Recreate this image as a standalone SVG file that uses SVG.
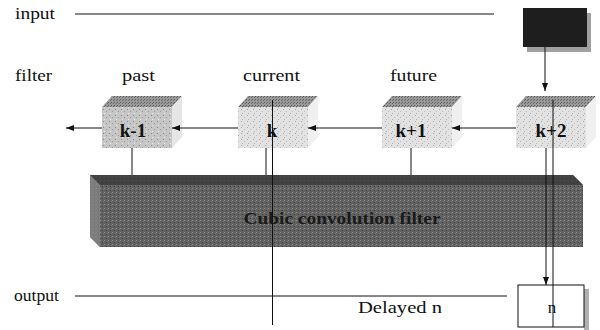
<svg xmlns="http://www.w3.org/2000/svg" width="600" height="330" viewBox="0 0 600 330">
<defs>
<style>
text{font-family:'Liberation Serif','DejaVu Serif',serif}
.lbl{font-size:17px;fill:#111}
.cap{font-size:19px;font-weight:bold;fill:#111;text-anchor:middle}
.ln{stroke:#111;stroke-width:1;fill:none}
</style>
<pattern id="speck" width="6" height="6" patternUnits="userSpaceOnUse">
<rect width="6" height="6" fill="#e2e2e2"/>
<rect x="1" y="1" width="1" height="1" fill="#a8a8a8"/>
<rect x="4" y="3" width="1" height="1" fill="#bdbdbd"/>
<rect x="2" y="5" width="1" height="1" fill="#b0b0b0"/>
</pattern>
<pattern id="speckD" width="6" height="6" patternUnits="userSpaceOnUse">
<rect width="6" height="6" fill="#c6c6c6"/>
<rect x="1" y="1" width="1" height="1" fill="#8c8c8c"/>
<rect x="4" y="3" width="1" height="1" fill="#9a9a9a"/>
<rect x="2" y="5" width="1" height="1" fill="#e8e8e8"/>
</pattern>
<pattern id="hatch" width="3" height="3" patternUnits="userSpaceOnUse">
<rect width="3" height="3" fill="#9a9a9a"/>
<rect x="0" y="0" width="1" height="1" fill="#5a5a5a"/>
<rect x="2" y="1" width="1" height="1" fill="#6a6a6a"/>
</pattern>
<pattern id="barp" width="4" height="4" patternUnits="userSpaceOnUse">
<rect width="4" height="4" fill="#626262"/>
<rect x="0" y="0" width="1" height="1" fill="#8a8a8a"/>
<rect x="2" y="2" width="1" height="1" fill="#3e3e3e"/>
<rect x="3" y="1" width="1" height="1" fill="#777"/>
</pattern>
<marker id="ah" viewBox="0 0 8 6" refX="8" refY="3" markerWidth="8" markerHeight="6" markerUnits="userSpaceOnUse" orient="auto">
<path d="M0,0 L8,3 L0,6 Z" fill="#111"/>
</marker>
</defs>
<rect width="600" height="330" fill="#fff"/>

<g id="labels" font-family="Liberation Serif, DejaVu Serif, serif">
<text class="lbl" x="15" y="19" textLength="40" lengthAdjust="spacingAndGlyphs">input</text>
<text class="lbl" x="15" y="81" textLength="37" lengthAdjust="spacingAndGlyphs">filter</text>
<text class="lbl" x="122" y="81" textLength="33" lengthAdjust="spacingAndGlyphs">past</text>
<text class="lbl" x="243" y="81" textLength="57" lengthAdjust="spacingAndGlyphs">current</text>
<text class="lbl" x="390" y="81" textLength="47" lengthAdjust="spacingAndGlyphs">future</text>
<text class="lbl" x="14" y="301" textLength="45" lengthAdjust="spacingAndGlyphs">output</text>
<text class="lbl" x="358" y="313" textLength="84" lengthAdjust="spacingAndGlyphs">Delayed n</text>
</g>

<g id="input-block">
<rect x="527" y="13" width="64" height="39" fill="#a0a0a0"/>
<rect x="523" y="8" width="64" height="39" fill="#1e1e1e"/>
</g>

<g id="bar">
<polygon points="90,175 573,175 583,185 583,247 100,247 90,237" fill="url(#barp)"/>
<polygon points="90,175 573,175 583,185 100,185" fill="#3a3a3a" opacity="0.8"/>
<polygon points="90,175 100,185 100,247 90,237" fill="#858585" opacity="0.8"/>
<text class="cap" x="342" y="224" textLength="197" lengthAdjust="spacingAndGlyphs" style="fill:#1a1a1a;font-size:17px">Cubic convolution filter</text>
</g>

<g id="cube-km1">
<polygon points="102,107 112,96 182,96 172,107" fill="url(#hatch)"/>
<polygon points="172,107 182,96 182,137 172,148" fill="#e6e6e6"/>
<rect x="102" y="107" width="70" height="41" fill="url(#speckD)"/>
<text class="cap" x="133" y="137">k-1</text>
</g>
<g id="cube-k">
<polygon points="238,107 248,96 318,96 308,107" fill="url(#hatch)"/>
<polygon points="308,107 318,96 318,137 308,148" fill="#f0f0f0"/>
<rect x="238" y="107" width="70" height="41" fill="url(#speck)"/>
<text class="cap" x="272" y="137">k</text>
</g>
<g id="cube-kp1">
<polygon points="382,107 392,96 462,96 452,107" fill="url(#hatch)"/>
<polygon points="452,107 462,96 462,137 452,148" fill="#f0f0f0"/>
<rect x="382" y="107" width="70" height="41" fill="url(#speck)"/>
<text class="cap" x="411" y="137">k+1</text>
</g>
<g id="cube-kp2">
<polygon points="516,107 526,96 596,96 586,107" fill="url(#hatch)"/>
<polygon points="586,107 596,96 596,137 586,148" fill="#f0f0f0"/>
<rect x="516" y="107" width="70" height="41" fill="url(#speck)"/>
<text class="cap" x="551" y="137">k+2</text>
</g>

<g id="output-n">
<rect x="584" y="289" width="5" height="41" fill="#b0b0b0"/>
<rect x="518" y="285" width="66" height="42" fill="#fff" stroke="#111" stroke-width="1"/>
<text class="lbl" x="552" y="313" text-anchor="middle">n</text>
</g>

<g id="connectors">
<line class="ln" x1="75" y1="14" x2="494" y2="14"/>
<line class="ln" x1="75" y1="296" x2="507" y2="296"/>
<line class="ln" x1="545" y1="47" x2="545" y2="91" marker-end="url(#ah)"/>
<line class="ln" x1="516" y1="128" x2="452" y2="128" marker-end="url(#ah)"/>
<line class="ln" x1="382" y1="128" x2="308" y2="128" marker-end="url(#ah)"/>
<line class="ln" x1="238" y1="128" x2="172" y2="128" marker-end="url(#ah)"/>
<line class="ln" x1="102" y1="128" x2="66" y2="128" marker-end="url(#ah)"/>
<line class="ln" x1="132" y1="148" x2="132" y2="175"/>
<line class="ln" x1="266" y1="148" x2="266" y2="175"/>
<line class="ln" x1="411" y1="148" x2="411" y2="175"/>
<line class="ln" x1="546" y1="148" x2="546" y2="285" marker-end="url(#ah)"/>
<line class="ln" x1="272.5" y1="100" x2="272.5" y2="325"/>
<line class="ln" x1="553" y1="100" x2="553" y2="327"/>
</g>
</svg>
